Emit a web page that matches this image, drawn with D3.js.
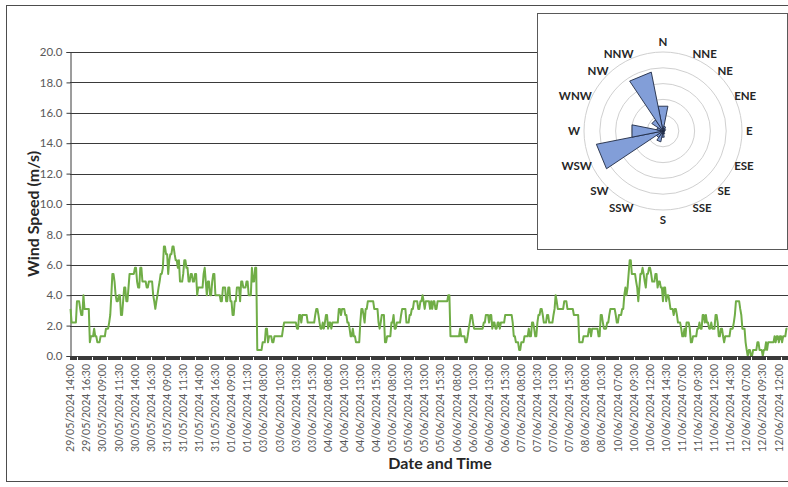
<!DOCTYPE html>
<html>
<head>
<meta charset="utf-8">
<script src="https://cdn.jsdelivr.net/npm/d3@7/dist/d3.min.js"></script>
<style>
  body { margin: 0; background: #ffffff; }
  svg { display: block; font-family: Lato, "Open Sans", "Liberation Sans", sans-serif; }
</style>
</head>
<body>
<svg id="chart" width="788" height="487"></svg>
<script>
// Category labels shown on the time axis (one every 15 readings, 10-minute logging)
const timeLabels = [
  "29/05/2024 14:00", "29/05/2024 16:30", "30/05/2024 09:00", "30/05/2024 11:30",
  "30/05/2024 14:00", "30/05/2024 16:30", "31/05/2024 09:00", "31/05/2024 11:30",
  "31/05/2024 14:00", "31/05/2024 16:30", "01/06/2024 09:00", "01/06/2024 11:30",
  "03/06/2024 08:00", "03/06/2024 10:30", "03/06/2024 13:00", "03/06/2024 15:30",
  "04/06/2024 08:00", "04/06/2024 10:30", "04/06/2024 13:00", "04/06/2024 15:30",
  "05/06/2024 08:00", "05/06/2024 10:30", "05/06/2024 13:00", "05/06/2024 15:30",
  "06/06/2024 08:00", "06/06/2024 10:30", "06/06/2024 13:00", "06/06/2024 15:30",
  "07/06/2024 08:00", "07/06/2024 10:30", "07/06/2024 13:00", "07/06/2024 15:30",
  "08/06/2024 08:00", "08/06/2024 10:30", "10/06/2024 07:00", "10/06/2024 09:30",
  "10/06/2024 12:00", "10/06/2024 14:30", "11/06/2024 07:00", "11/06/2024 09:30",
  "11/06/2024 12:00", "11/06/2024 14:30", "12/06/2024 07:00", "12/06/2024 09:30",
  "12/06/2024 12:00"
];
const labelEvery = 15;

// Wind speed readings (m/s), one per logged interval
const windSpeed = [
  3.1,2.2,2.2,2.2,2.2,2.2,3.6,3.6,3.6,3.1,2.7,2.7,4.0,3.1,3.1,
  3.1,3.1,3.1,0.9,1.3,1.3,1.3,1.8,1.3,1.3,0.9,0.9,0.9,1.3,1.3,
  1.3,1.3,1.3,1.8,1.8,1.8,2.2,2.7,4.0,5.4,5.4,4.9,4.0,3.6,3.6,
  4.0,4.0,2.7,2.7,3.6,4.5,4.5,3.6,3.6,4.5,5.4,5.4,5.4,5.4,5.4,
  5.8,5.8,4.9,4.5,4.5,5.8,5.8,4.9,4.9,4.9,4.9,4.5,4.5,4.9,4.9,
  4.9,4.9,4.0,3.6,3.1,3.6,4.0,4.5,4.9,5.4,5.4,5.8,7.2,7.2,6.7,
  6.7,5.4,6.3,6.7,6.7,7.2,7.2,6.7,6.3,6.3,5.8,6.3,4.9,4.9,4.9,
  5.4,6.3,6.3,5.8,5.8,4.9,4.9,5.4,5.4,4.9,4.9,5.4,5.4,4.0,4.5,
  4.5,4.5,4.5,4.5,5.4,5.8,4.9,4.0,4.9,4.9,4.0,4.0,4.9,5.4,5.4,
  4.0,4.0,4.0,4.0,4.0,3.6,3.6,4.5,4.5,4.5,3.6,3.6,4.5,4.5,3.6,
  3.6,2.7,2.7,3.6,3.6,4.5,4.5,4.5,3.6,4.9,4.9,4.5,4.5,4.5,4.9,
  4.9,4.0,4.0,4.0,5.8,4.9,4.9,5.8,5.8,0.4,0.4,0.4,0.4,0.4,0.9,
  0.9,0.9,1.8,1.8,0.9,1.3,1.3,1.3,0.9,0.9,1.3,1.3,1.3,1.3,1.3,
  1.3,1.3,1.3,1.8,2.2,2.2,2.2,2.2,2.2,2.2,2.2,2.2,2.2,2.2,2.2,
  2.2,1.8,1.8,2.7,2.7,2.2,2.7,2.7,2.7,2.7,2.7,2.2,2.2,2.2,2.2,
  2.2,2.2,2.2,2.7,3.1,3.1,2.7,2.2,1.8,1.8,2.2,1.8,2.2,2.7,2.7,
  1.8,2.2,2.2,1.8,2.2,2.2,2.2,2.2,2.2,2.2,3.1,3.1,2.7,3.1,3.1,
  3.1,2.7,2.7,2.2,2.2,1.8,1.3,1.3,1.8,1.3,1.3,0.9,0.9,0.9,0.9,
  2.2,3.1,3.1,2.7,2.2,3.1,3.1,3.6,3.6,3.6,3.6,3.6,3.6,3.1,3.1,
  3.1,3.1,2.2,1.8,2.2,2.7,2.7,2.7,0.9,0.9,1.3,1.3,1.3,1.3,2.2,
  2.2,2.7,1.8,1.8,2.2,2.2,2.2,2.2,2.7,3.1,3.1,3.1,3.1,2.2,2.2,
  2.2,2.7,2.7,3.1,3.1,3.6,3.6,3.6,3.6,3.1,3.1,3.6,3.6,4.0,3.6,
  3.1,3.6,3.6,3.6,3.6,3.1,3.6,3.1,3.6,3.6,3.1,3.1,3.6,3.6,3.6,
  3.6,3.6,3.6,3.6,3.6,3.6,3.6,4.0,4.0,1.3,1.3,1.3,1.3,1.3,1.3,
  1.3,1.3,1.3,1.8,1.3,1.3,1.3,1.3,0.9,0.9,1.3,1.8,2.2,2.7,2.7,
  2.2,1.8,1.8,1.8,1.8,1.8,1.8,1.8,1.8,1.8,2.2,2.2,2.7,2.7,2.7,
  2.2,2.7,2.7,1.8,2.2,2.2,1.8,1.8,2.2,2.2,1.8,2.2,2.2,2.2,2.2,
  2.7,2.7,2.7,2.7,2.7,2.7,2.7,2.2,1.3,1.3,0.9,0.9,0.9,0.4,0.4,
  0.9,0.9,0.9,1.3,1.3,1.3,1.3,1.8,1.3,1.3,2.2,2.2,1.8,1.3,1.3,
  2.2,2.7,2.7,3.1,3.1,2.7,2.2,2.2,2.2,2.7,2.7,2.2,2.2,2.2,2.2,
  2.7,3.1,4.0,3.6,3.1,3.1,3.1,3.1,3.1,3.1,3.6,3.6,3.6,3.1,3.1,
  3.1,3.1,3.1,3.1,2.7,2.7,2.7,2.7,2.7,0.9,0.9,0.9,0.9,1.3,1.3,
  1.3,1.3,1.3,1.8,1.8,1.3,1.8,1.8,1.8,1.8,1.8,1.8,1.3,1.3,2.7,
  2.7,2.2,1.8,1.8,1.8,2.2,2.2,2.7,3.1,3.1,3.1,3.1,3.1,2.7,2.2,
  2.2,2.7,2.7,2.7,3.1,3.1,4.0,4.5,4.0,4.5,5.4,6.3,6.3,5.4,5.4,
  5.4,5.4,4.9,4.5,3.6,4.5,5.4,5.4,5.8,5.4,4.9,4.5,5.4,5.4,5.8,
  5.8,5.4,4.9,4.9,4.9,5.4,5.4,4.5,4.9,4.9,4.5,4.5,3.6,4.5,4.5,
  3.6,4.0,4.0,3.6,3.1,3.1,3.1,2.7,3.1,3.1,2.7,2.2,2.2,2.2,1.8,
  1.3,1.3,1.8,1.3,2.2,2.2,2.2,1.8,0.9,0.9,1.3,1.3,1.3,1.3,1.8,
  1.8,2.2,1.8,1.8,2.7,2.7,2.2,2.7,2.2,2.2,1.8,1.8,2.2,1.8,1.8,
  1.8,2.7,2.7,2.2,1.3,1.3,1.8,1.8,1.3,0.9,1.3,1.3,1.3,1.3,1.3,
  1.8,1.8,1.8,2.2,2.7,3.6,3.6,3.6,3.6,3.1,2.7,1.8,1.8,1.8,0.9,
  0.4,0.0,0.4,0.4,0.0,0.0,0.4,0.4,0.4,0.4,0.9,0.9,0.4,0.4,0.4,
  0.0,0.4,0.4,0.9,0.4,0.9,0.9,0.9,0.9,0.9,0.9,1.3,0.9,1.3,1.3,
  0.9,1.3,1.3,0.9,1.3,1.3,1.3,1.8,1.8
];

const yTicks = [0, 2, 4, 6, 8, 10, 12, 14, 16, 18, 20];

// Wind rose: 16 compass sectors and their relative frequency (ring units)
const directions = ["N","NNE","NE","ENE","E","ESE","SE","SSE","S","SSW","SW","WSW","W","WNW","NW","NNW"];
const directionFreq = [1.6, 0.3, 0.2, 0.15, 0.1, 0.1, 0.1, 0.2, 0.4, 0.7, 0.5, 4.3, 2.0, 0.4, 0.85, 3.8];
const roseRings = [1, 2, 3, 4, 5];

const svg = d3.select("#chart");
const plot = { left: 70, top: 52, right: 788, bottom: 356 };

// outer chart frame
svg.append("rect")
  .attr("x", 6.5).attr("y", 5.5)
  .attr("width", 800).attr("height", 476)
  .attr("fill", "#ffffff").attr("stroke", "#4d4d4d").attr("stroke-width", 1);

const x = d3.scaleBand()
  .domain(d3.range(windSpeed.length))
  .range([plot.left, plot.right])
  .paddingInner(0).paddingOuter(0);
const y = d3.scaleLinear().domain([0, 20]).range([plot.bottom, plot.top]);

// horizontal gridlines
svg.append("g").selectAll("line")
  .data(yTicks.filter(d => d > 0))
  .join("line")
  .attr("x1", plot.left).attr("x2", plot.right)
  .attr("y1", d => Math.round(y(d)) + 0.5).attr("y2", d => Math.round(y(d)) + 0.5)
  .attr("stroke", "#3a3a3a").attr("stroke-width", 1);

// y axis
const yAxis = svg.append("g")
  .attr("transform", `translate(${plot.left + 0.5},0)`)
  .call(d3.axisLeft(y).tickValues(yTicks).tickFormat(d3.format(".1f")).tickSize(4).tickPadding(4));
yAxis.select(".domain").attr("stroke", "#3a3a3a");
yAxis.selectAll(".tick line").attr("stroke", "#3a3a3a");
yAxis.selectAll(".tick text")
  .attr("fill", "#595959").attr("font-size", 11.5)
  .attr("font-family", "Lato, 'Open Sans', sans-serif");

// wind speed line
const line = d3.line()
  .x((d, i) => x(i) + x.bandwidth() / 2)
  .y(d => y(d))
  .curve(d3.curveLinear);
svg.append("path")
  .datum(windSpeed)
  .attr("d", line)
  .attr("fill", "none")
  .attr("stroke", "#70ad47")
  .attr("stroke-width", 2)
  .attr("stroke-linejoin", "round");

// x axis line and one tick per reading
const xg = svg.append("g");
xg.append("line")
  .attr("x1", plot.left).attr("x2", plot.right)
  .attr("y1", plot.bottom + 0.5).attr("y2", plot.bottom + 0.5)
  .attr("stroke", "#3a3a3a");
xg.selectAll("line.tick")
  .data(d3.range(windSpeed.length + 1))
  .join("line")
  .attr("class", "tick")
  .attr("x1", i => Math.round(plot.left + i * x.step()) + 0.5)
  .attr("x2", i => Math.round(plot.left + i * x.step()) + 0.5)
  .attr("y1", plot.bottom).attr("y2", plot.bottom + 4)
  .attr("stroke", "#3a3a3a").attr("stroke-width", 1);

// rotated time labels
xg.selectAll("text.tl")
  .data(timeLabels)
  .join("text")
  .attr("class", "tl")
  .attr("transform", (d, k) => `translate(${x(k * labelEvery) + x.bandwidth() / 2},${plot.bottom + 8}) rotate(-90)`)
  .attr("text-anchor", "end")
  .attr("dy", "0.35em")
  .attr("font-size", 10.5)
  .attr("fill", "#595959")
  .text(d => d);

// axis titles
svg.append("text")
  .attr("x", 440).attr("y", 469)
  .attr("text-anchor", "middle")
  .attr("font-size", 16).attr("font-weight", "bold")
  .attr("fill", "#262626")
  .text("Date and Time");
svg.append("text")
  .attr("transform", "translate(33,214) rotate(-90)")
  .attr("text-anchor", "middle").attr("dy", "0.35em")
  .attr("font-size", 16).attr("font-weight", "bold")
  .attr("fill", "#262626")
  .text("Wind Speed (m/s)");

// ---- wind rose inset ----
const inset = svg.append("g");
inset.append("rect")
  .attr("x", 537.5).attr("y", 13.5)
  .attr("width", 250).attr("height", 236)
  .attr("fill", "#ffffff").attr("stroke", "#595959").attr("stroke-width", 1);

const cx = 663, cy = 131;
const r = d3.scaleLinear().domain([0, 5]).range([0, 79]);
const rose = inset.append("g").attr("transform", `translate(${cx},${cy})`);

rose.selectAll("circle")
  .data(roseRings)
  .join("circle")
  .attr("r", d => r(d))
  .attr("fill", "none")
  .attr("stroke", "#d0d0d0").attr("stroke-width", 1);

const half = Math.PI / 16;
const sector = d3.lineRadial().angle(d => d[0]).radius(d => d[1]);
rose.selectAll("path.sector")
  .data(directions.map((dir, k) => ({ dir, v: directionFreq[k], a: k * Math.PI / 8 })))
  .join("path")
  .attr("class", "sector")
  .attr("d", d => sector([[0, 0], [d.a - half, r(d.v)], [d.a + half, r(d.v)]]) + "Z")
  .attr("fill", "#829ed8")
  .attr("stroke", "#1f2a44").attr("stroke-width", 0.9)
  .attr("stroke-linejoin", "miter");

// direction labels: the label box corner nearest the centre sits just outside the outer ring
const lbl = rose.selectAll("text.dir")
  .data(directions)
  .join("text")
  .attr("class", "dir")
  .attr("text-anchor", "middle").attr("dy", "0.35em")
  .attr("font-size", 11.5).attr("font-weight", "bold")
  .attr("fill", "#262626")
  .text(d => d);
lbl.each(function (d, k) {
  const a = k * Math.PI / 8;
  const w = this.getComputedTextLength();
  const s = Math.sin(a), c = -Math.cos(a);
  const R = (k % 4 === 0) ? 83 : 77;
  const sx = Math.abs(s) < 1e-6 ? 0 : Math.sign(s);
  const sy = Math.abs(c) < 1e-6 ? 0 : Math.sign(c);
  d3.select(this)
    .attr("x", R * s + sx * w / 2)
    .attr("y", R * c + sy * 6);
});
</script>
</body>
</html>
